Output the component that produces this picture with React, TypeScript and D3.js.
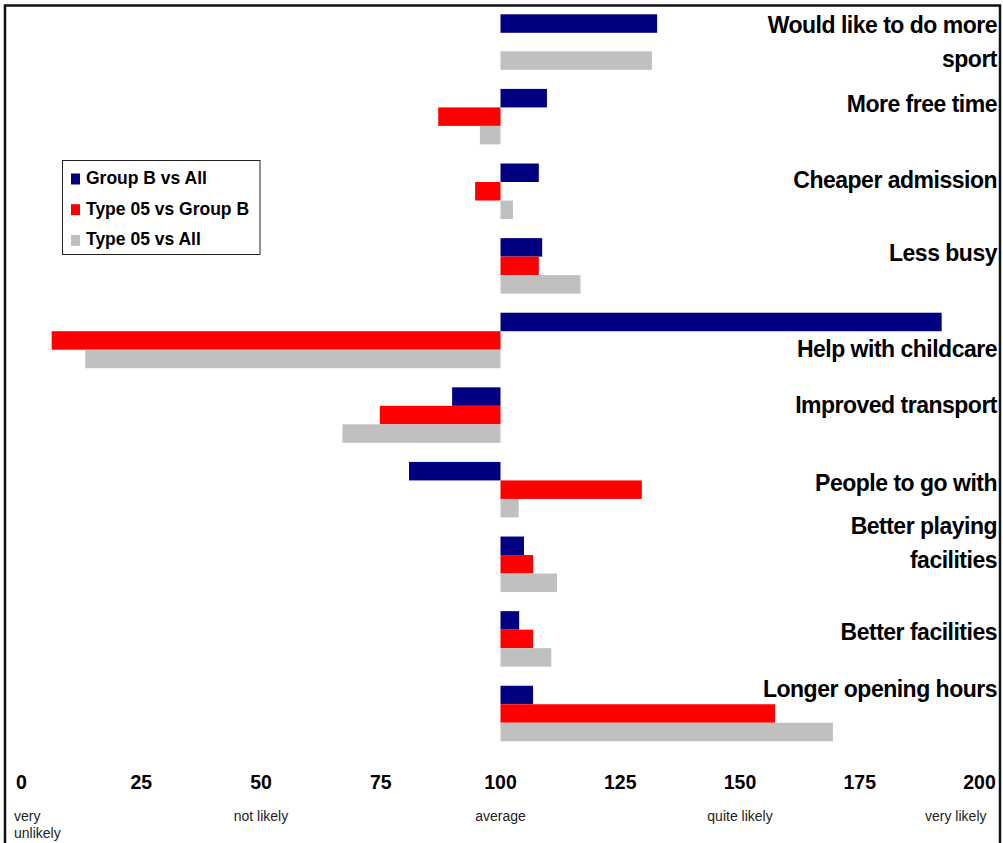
import React from "react";
import * as d3 from "d3";

// Survey index: 100 = average likelihood
const categories = [
  "Would like to do more sport",
  "More free time",
  "Cheaper admission",
  "Less busy",
  "Help with childcare",
  "Improved transport",
  "People to go with",
  "Better playing facilities",
  "Better facilities",
  "Longer opening hours",
];

const seriesNames = ["Group B vs All", "Type 05 vs Group B", "Type 05 vs All"];

const groupBvsAll = [132.7, 109.7, 108.0, 108.7, 192.1, 89.9, 80.9, 104.9, 103.9, 106.8];
const type05vsGroupB = [100, 87.0, 94.7, 108.0, 6.3, 74.8, 129.5, 106.8, 106.8, 157.3];
const type05vsAll = [131.6, 95.7, 102.6, 116.7, 13.3, 67.0, 103.8, 111.8, 110.6, 169.4];

const tickValues = [0, 25, 50, 75, 100, 125, 150, 175, 200];
const scaleWords = [
  { value: 0, text: ["very", "unlikely"] },
  { value: 50, text: ["not likely"] },
  { value: 100, text: ["average"] },
  { value: 150, text: ["quite likely"] },
  { value: 200, text: ["very likely"] },
];

const seriesValues = [groupBvsAll, type05vsGroupB, type05vsAll];
const colors = ["#000080", "#ff0000", "#c0c0c0"];

// Line breaks and vertical placement of the category labels
const labelLines: Record<string, string[]> = {
  "Would like to do more sport": ["Would like to do more", "sport"],
  "Better playing facilities": ["Better playing", "facilities"],
};
const labelDy = [18.7, 23.1, 24.5, 22.9, 44.3, 25.7, 29.1, -2.5, 28.9, 11.3];

const W = 1003;
const H = 843;
const FONT = "'Liberation Sans', Arial, sans-serif";

export default function App() {
  const x = d3.scaleLinear().domain([0, 200]).range([21.5, 979.5]);
  const y = d3
    .scaleBand<string>()
    .domain(categories)
    .range([4.75, 750.8])
    .paddingInner(0.256)
    .paddingOuter(0.128);
  const ys = d3
    .scaleBand<string>()
    .domain(seriesNames)
    .range([0, y.bandwidth()])
    .padding(0);

  const base = x(100);

  return (
    <svg
      width={W}
      height={H}
      style={{ position: "absolute", left: 0, top: 0, background: "#fff" }}
      fontFamily={FONT}
    >
      <rect x={0} y={0} width={W} height={H} fill="#fff" />
      {/* bars */}
      {categories.map((c, i) => (
        <g key={c}>
          {seriesNames.map((s, j) => {
            const v = seriesValues[j][i];
            const x0 = Math.min(x(v), base);
            const w = Math.abs(x(v) - base);
            return (
              <rect
                key={s}
                x={x0}
                y={(y(c) as number) + (ys(s) as number)}
                width={w}
                height={ys.bandwidth()}
                fill={colors[j]}
              />
            );
          })}
        </g>
      ))}
      {/* category labels */}
      {categories.map((c, i) => {
        const lines = labelLines[c] ?? [c];
        const y0 = (y(c) as number) + labelDy[i];
        return (
          <text
            key={c}
            x={997}
            y={y0}
            textAnchor="end"
            fontSize={23}
            fontWeight="bold"
            letterSpacing={-0.5}
            fill="#000"
          >
            {lines.map((l, k) => (
              <tspan key={k} x={997} y={y0 + k * 34}>
                {l}
              </tspan>
            ))}
          </text>
        );
      })}
      {/* axis tick labels */}
      {tickValues.map((t) => (
        <text
          key={t}
          x={x(t)}
          y={789}
          textAnchor="middle"
          fontSize={19.5}
          fontWeight="bold"
          fill="#000"
        >
          {t}
        </text>
      ))}
      {/* scale descriptions */}
      {scaleWords.map((sw, i) => {
        const anchor = i === 0 ? "start" : i === scaleWords.length - 1 ? "end" : "middle";
        const px = i === 0 ? x(sw.value) - 7.5 : i === scaleWords.length - 1 ? x(sw.value) + 7 : x(sw.value);
        return (
          <text key={sw.value} x={px} y={821} textAnchor={anchor} fontSize={14} fill="#222">
            {sw.text.map((l, k) => (
              <tspan key={k} x={px} y={821 + k * 17}>
                {l}
              </tspan>
            ))}
          </text>
        );
      })}
      {/* legend */}
      <g>
        <rect x={62.5} y={160.5} width={197.5} height={94} fill="#fff" stroke="#222" strokeWidth={1} />
        {seriesNames.map((s, j) => (
          <g key={s}>
            <rect x={71} y={173.5 + j * 30.7} width={9} height={11} fill={colors[j]} />
            <text x={86} y={184 + j * 30.7} fontSize={17.5} fontWeight="bold" fill="#000">
              {s}
            </text>
          </g>
        ))}
      </g>
      {/* frame */}
      <rect x={5} y={5.5} width={995} height={850} fill="none" stroke="#111" strokeWidth={2.5} />
    </svg>
  );
}
